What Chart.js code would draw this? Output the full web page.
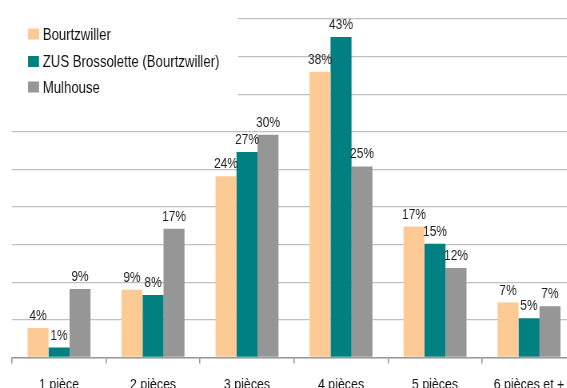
<!DOCTYPE html>
<html lang="fr">
<head>
    <meta charset="UTF-8">
    <title>Taille des logements</title>
    <script src="https://cdn.jsdelivr.net/npm/chart.js"></script>
    <style>
        html, body {
            margin: 0;
            padding: 0;
            background: #fff;
            overflow: hidden;
        }
    </style>
</head>
<body>
    <!-- drawn wide, shown narrower: gives the condensed lettering -->
    <canvas id="rooms" width="738" height="406" style="width: 590px; height: 406px;"></canvas>
    <script>
        const categories = ['1 pièce', '2 pièces', '3 pièces', '4 pièces', '5 pièces', '6 pièces et +'];
        const seriesNames = ['Bourtzwiller', 'ZUS Brossolette (Bourtzwiller)', 'Mulhouse'];
        const bourtzwiller = [3.9, 9.0, 24.1, 38.0, 17.4, 7.3];
        const zusBrossolette = [1.3, 8.3, 27.3, 42.6, 15.1, 5.2];
        const mulhouse = [9.1, 17.1, 29.6, 25.4, 11.9, 6.8];
        const colors = ['#fdca95', '#008080', '#969696'];

        const font = '"Liberation Sans", Arial, sans-serif';
        const sx = 738 / 590; // canvas px per screen px, horizontally

        // legend sits inside the plot, on a white box that hides the grid behind it
        const legendBox = {
            id: 'legendBox',
            afterDatasetsDraw(chart) {
                const ctx = chart.ctx;
                ctx.save();
                ctx.fillStyle = '#fff';
                ctx.fillRect(chart.chartArea.left, 0, 238 * sx - chart.chartArea.left, 110);
                ctx.font = '16.5px ' + font;
                ctx.textBaseline = 'middle';
                ctx.textAlign = 'left';
                const rows = [34, 61.5, 87];
                chart.data.datasets.forEach((ds, i) => {
                    ctx.fillStyle = ds.backgroundColor;
                    ctx.fillRect(28 * sx, rows[i] - 5.5, 11 * sx, 11);
                    ctx.fillStyle = '#111';
                    ctx.fillText(ds.label, 42.7 * sx, rows[i] + 1);
                });
                ctx.restore();
            }
        };

        // percentage written above each bar
        const barValues = {
            id: 'barValues',
            afterDatasetsDraw(chart) {
                const ctx = chart.ctx;
                ctx.save();
                ctx.font = '15px ' + font;
                ctx.fillStyle = '#222';
                ctx.textAlign = 'center';
                ctx.textBaseline = 'alphabetic';
                chart.data.datasets.forEach((ds, i) => {
                    chart.getDatasetMeta(i).data.forEach((bar, j) => {
                        ctx.fillText(Math.round(ds.data[j]) + '%', bar.x, bar.y - 8);
                    });
                });
                ctx.restore();
            }
        };

        new Chart(document.getElementById('rooms'), {
            type: 'bar',
            data: {
                labels: categories,
                datasets: [
                    { label: seriesNames[0], data: bourtzwiller, backgroundColor: colors[0] },
                    { label: seriesNames[1], data: zusBrossolette, backgroundColor: colors[1] },
                    { label: seriesNames[2], data: mulhouse, backgroundColor: colors[2] }
                ]
            },
            options: {
                responsive: false,
                animation: false,
                devicePixelRatio: 1,
                categoryPercentage: 0.67,
                barPercentage: 1.0,
                layout: {
                    padding: { left: 12 * sx, right: 738 - 576 * sx, top: 19, bottom: 0 }
                },
                plugins: {
                    legend: { display: false },
                    tooltip: { enabled: false }
                },
                scales: {
                    x: {
                        grid: {
                            display: true,
                            drawOnChartArea: false,
                            drawTicks: true,
                            tickLength: 6,
                            color: '#9a9a9a',
                            lineWidth: 1.6
                        },
                        border: { display: true, color: '#9a9a9a', width: 1.5 },
                        ticks: {
                            color: '#111',
                            padding: 12,
                            maxRotation: 0,
                            autoSkip: false,
                            font: { family: font, size: 15.5 }
                        }
                    },
                    y: {
                        min: 0,
                        max: 45,
                        ticks: { display: false, stepSize: 5 },
                        grid: { color: '#c0c0c0', lineWidth: 1.2, drawTicks: false },
                        border: { display: false }
                    }
                }
            },
            plugins: [legendBox, barValues]
        });
    </script>
</body>
</html>
